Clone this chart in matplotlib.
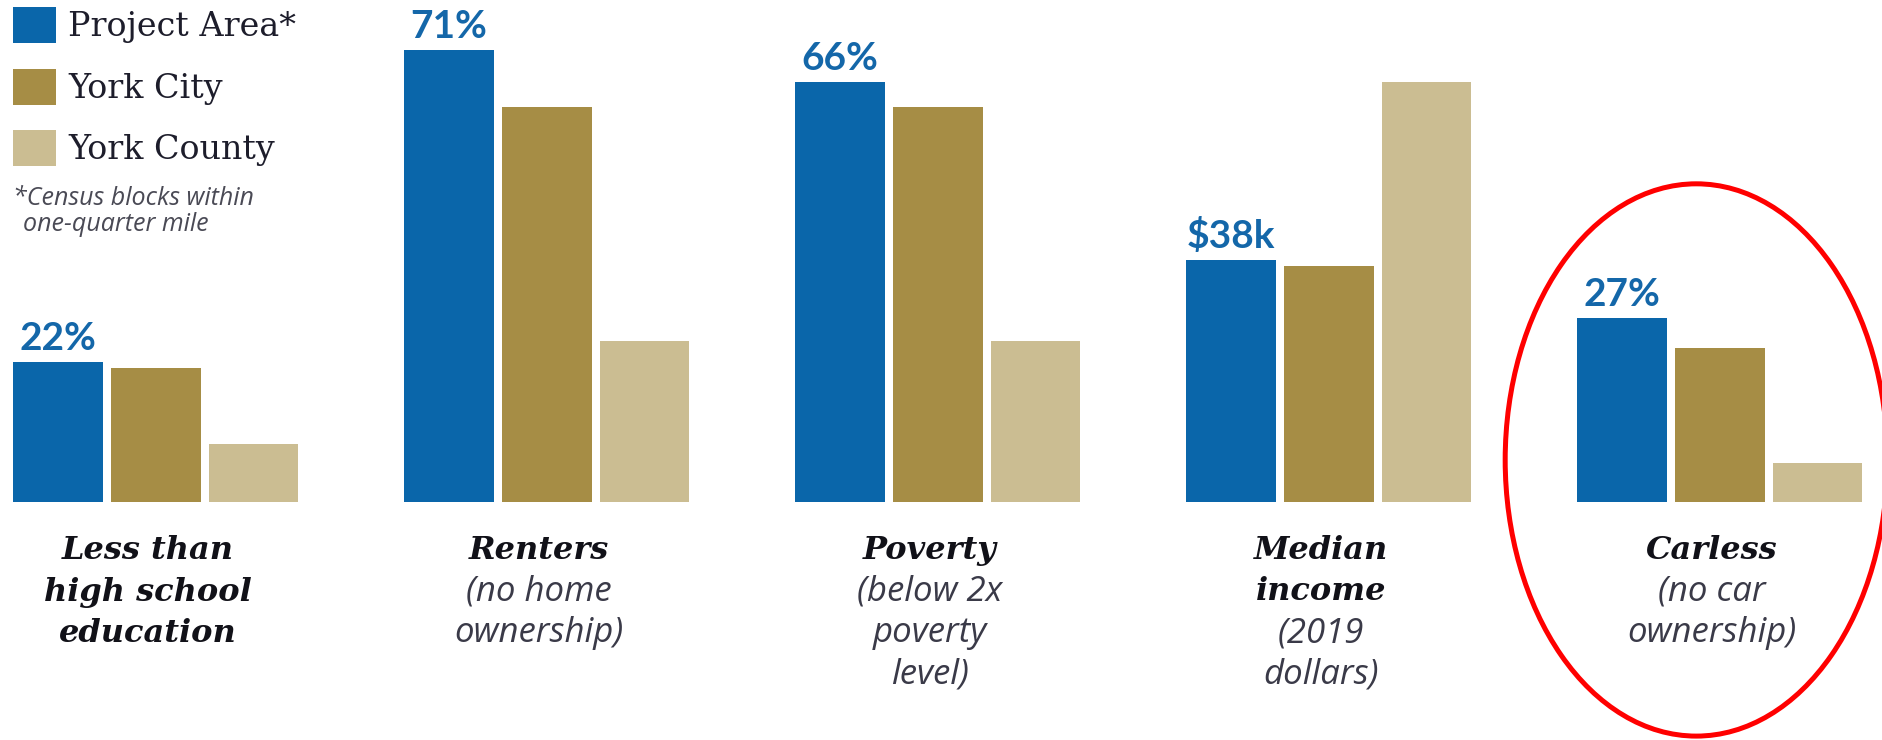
import matplotlib
matplotlib.use("Agg")
import matplotlib.pyplot as plt
from matplotlib.patches import Ellipse
import numpy as np

# --- data ---
series = ["Project Area*", "York City", "York County"]
colors = ["#0A66AA", "#A68D45", "#CBBD92"]

project_area = [22, 71, 66, 38, 28.9]
york_city = [21.1, 62, 62, 37, 24.2]
york_county = [9.1, 25.3, 25.3, 66, 6.1]

value_labels = ["22%", "71%", "66%", "$38k", "27%"]

titles = [["Less than", "high school", "education"], ["Renters"], ["Poverty"],
          ["Median", "income"], ["Carless"]]
subtitles = [[], ["(no home", "ownership)"], ["(below 2x", "poverty", "level)"],
             ["(2019", "dollars)"], ["(no car", "ownership)"]]

footnote = ["*Census blocks within", "one-quarter mile"]

# --- layout ---
W, H = 1883, 740
fig = plt.figure(figsize=(W / 100, H / 100), dpi=100)
ax = fig.add_axes([0, 0, 1, 1])
ax.axis("off")

px_x = 97.75   # pixels per x unit
px_y = 6.37    # pixels per y unit
x0_px, base_px = 58, 502
ax.set_xlim(-x0_px / px_x, (W - x0_px) / px_x)
ax.set_ylim(-(H - base_px) / px_y, base_px / px_y)

groups = np.arange(len(titles)) * 4
width = 0.92
all_vals = [project_area, york_city, york_county]
for i, (vals, c, lab) in enumerate(zip(all_vals, colors, series)):
    ax.bar(groups + i, vals, width=width, color=c, label=lab, edgecolor="none")

# value labels over the project area bars
for g, v, t in zip(groups, project_area, value_labels):
    ax.text(g, v + 12 / px_y, t, ha="center", va="baseline", fontsize=28,
            fontweight="bold", family="Lato", color="#1467A9")

# category labels under each group
line_px = 41.5
for g, tl, sl in zip(groups, titles, subtitles):
    xc = g + 1 - 0.08
    for k, line in enumerate(tl + sl):
        y = (base_px - (559 + line_px * k)) / px_y
        if k < len(tl):
            ax.text(xc, y, line, ha="center", va="baseline", fontsize=23,
                    family="DejaVu Serif", fontweight="bold", style="italic",
                    color="#111118")
        else:
            ax.text(xc, y, line, ha="center", va="baseline", fontsize=25,
                    family="Open Sans", style="italic", color="#3a3a48")

# red highlight round the last group
ax.add_patch(Ellipse((groups[-1] + 1 - 0.24, 6.6), 3.91, 86.7, fill=False,
                     edgecolor="#FF0000", linewidth=3.6, clip_on=False))

# legend
leg = ax.legend(loc="upper left", bbox_to_anchor=(13 / W, 1 - 7 / H),
                bbox_transform=fig.transFigure, frameon=False, borderpad=0,
                borderaxespad=0, handlelength=1.29, handleheight=1.29,
                labelspacing=0.76, handletextpad=0.36,
                prop={"family": "DejaVu Serif", "size": 24})
for t in leg.get_texts():
    t.set_color("#1d1d2b")

fig.text(13 / W, 1 - 205 / H, footnote[0], ha="left", va="baseline", fontsize=18,
         family="Open Sans", style="italic", color="#4a4a55")
fig.text(23 / W, 1 - 231 / H, footnote[1], ha="left", va="baseline", fontsize=18,
         family="Open Sans", style="italic", color="#4a4a55")

fig.savefig("out.png", dpi=100, facecolor="white")
